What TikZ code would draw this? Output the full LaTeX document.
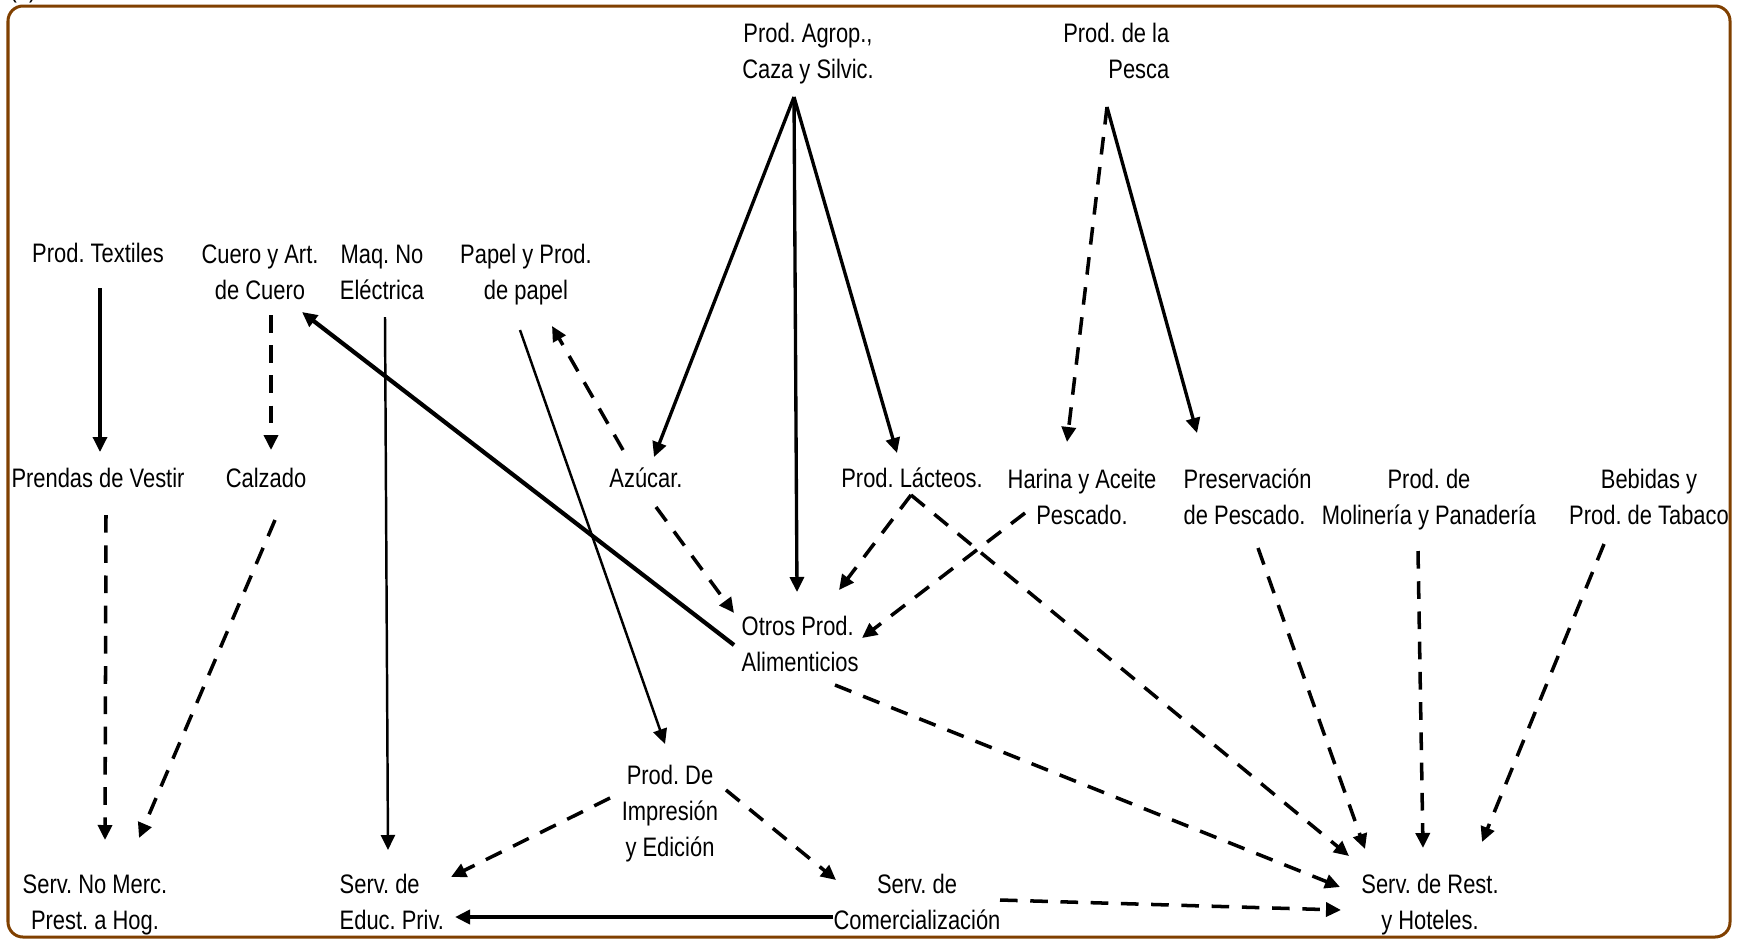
\documentclass[tikz,border=0pt]{standalone}
\usepackage{fontspec}
\setmainfont{Liberation Sans}[FakeStretch=0.82]
\usetikzlibrary{arrows.meta}
\definecolor{framebrown}{RGB}{128,64,0}
\newcommand{\st}{\rule[-2.4pt]{0pt}{10.24pt}}
\frenchspacing
\begin{document}
\begin{tikzpicture}[x=0.01cm,y=-0.01cm,
  lbl/.style={inner sep=0pt, align=center, font=\fontsize{7.6}{10.24}\selectfont},
  lbll/.style={lbl, align=left},
  lblr/.style={lbl, align=right},
  tipped/.style={-{Triangle[length=0.15cm,width=0.14cm]}},
  sol/.style={tipped, line width=0.95pt},
  solthin/.style={tipped, line width=0.7pt},
  solthick/.style={tipped, line width=1.2pt},
  dsh/.style={tipped, line width=1pt, dash pattern=on 5pt off 3.6pt}]
\useasboundingbox (0,0) rectangle (1737,939);
\fill[white] (0,0) rectangle (1737,939);
\draw[framebrown, line width=0.03cm, rounded corners=0.15cm] (8,6) rectangle (1730,937);
\node[lbl, anchor=base west] (lab) at (9,-3) {(a)};
% nodes
\node[lbl] (agrop) at (808,51) {\st Prod. Agrop.,\\\st Caza y Silvic.};
\node[lblr, anchor=east] (pesca) at (1170,51) {\st Prod. de la\\\st Pesca};
\node[lbl] (textiles) at (98,253) {\st Prod. Textiles};
\node[lbl] (cuero) at (260,272) {\st Cuero y Art.\\\st de Cuero};
\node[lbl] (maq) at (382,272) {\st Maq. No\\\st Eléctrica};
\node[lbl] (papel) at (526,272) {\st Papel y Prod.\\\st de papel};
\node[lbl] (prendas) at (98,478) {\st Prendas de Vestir};
\node[lbl] (calzado) at (266,478) {\st Calzado};
\node[lbl] (azucar) at (646,478) {\st Azúcar.};
\node[lbl] (lacteos) at (912,478) {\st Prod. Lácteos.};
\node[lbl] (harina) at (1082,497) {\st Harina y Aceite\\\st Pescado.};
\node[lbll, anchor=west] (preserv) at (1183,497) {\st Preservación\\\st de Pescado.};
\node[lbl] (molin) at (1429,497) {\st Prod. de\\\st Molinería y Panadería};
\node[lbl] (bebidas) at (1649,497) {\st Bebidas y\\\st Prod. de Tabaco};
\node[lbll, anchor=west] (otros) at (741,644) {\st Otros Prod.\\\st Alimenticios};
\node[lbl] (impresion) at (670,811) {\st Prod. De\\\st Impresión\\\st y Edición};
\node[lbl] (nomerc) at (95,902) {\st Serv. No Merc.\\\st Prest. a Hog.};
\node[lbll, anchor=west] (educ) at (339,902) {\st Serv. de\\\st Educ. Priv.};
\node[lbl] (comerc) at (917,902) {\st Serv. de\\\st Comercialización};
\node[lbl] (rest) at (1430,902) {\st Serv. de Rest.\\\st y Hoteles.};
% connectors
\draw[sol] ([shift={(-14,46)}]agrop.center) -- ([shift={(8,-21)}]azucar.center);
\draw[sol] ([shift={(-14,46)}]agrop.center) -- ([shift={(56,-52)}]otros.west);
\draw[sol] ([shift={(-14,46)}]agrop.center) -- ([shift={(-15,-25)}]lacteos.center);
\draw[sol] ([shift={(-63,56)}]pesca.east) -- ([shift={(14,-64)}]preserv.west);
\draw[dsh] ([shift={(-63,56)}]pesca.east) -- ([shift={(-15,-55)}]harina.center);
\draw[sol] ([shift={(2,35)}]textiles.center) -- ([shift={(2,-26)}]prendas.center);
\draw[dsh] ([shift={(11,43)}]cuero.center) -- ([shift={(5,-28)}]calzado.center);
\draw[solthick] ([shift={(-7,1)}]otros.west) -- ([shift={(42,40)}]cuero.center);
\draw[solthin] ([shift={(3,45)}]maq.center) -- ([shift={(49,-52)}]educ.west);
\draw[solthin] ([shift={(-6,58)}]papel.center) -- ([shift={(-5,-67)}]impresion.center);
\draw[dsh] ([shift={(-23,-28)}]azucar.center) -- ([shift={(26,54)}]papel.center);
\draw[dsh] ([shift={(10,29)}]azucar.center) -- ([shift={(-7,-31)}]otros.west);
\draw[dsh] ([shift={(-1,17)}]lacteos.center) -- ([shift={(98,-54)}]otros.west);
\draw[dsh] ([shift={(-1,17)}]lacteos.center) -- ([shift={(-81,-46)}]rest.center);
\draw[dsh] ([shift={(-57,16)}]harina.center) -- ([shift={(121,-6)}]otros.west);
\draw[dsh] ([shift={(94,41)}]otros.west) -- ([shift={(-90,-15)}]rest.center);
\draw[dsh] ([shift={(75,51)}]preserv.west) -- ([shift={(-65,-53)}]rest.center);
\draw[dsh] ([shift={(-11,54)}]molin.center) -- ([shift={(-7,-54)}]rest.center);
\draw[dsh] ([shift={(-45,47)}]bebidas.center) -- ([shift={(52,-60)}]rest.center);
\draw[dsh] ([shift={(8,37)}]prendas.center) -- ([shift={(10,-62)}]nomerc.center);
\draw[dsh] ([shift={(9,42)}]calzado.center) -- ([shift={(44,-64)}]nomerc.center);
\draw[dsh] ([shift={(-60,-13)}]impresion.center) -- ([shift={(112,-25)}]educ.west);
\draw[dsh] ([shift={(56,-21)}]impresion.center) -- ([shift={(-81,-22)}]comerc.center);
\draw[solthick] ([shift={(-84,15)}]comerc.center) -- ([shift={(116,15)}]educ.west);
\draw[dsh] ([shift={(83,-2)}]comerc.center) -- ([shift={(-89,8)}]rest.center);
\end{tikzpicture}
\end{document}
